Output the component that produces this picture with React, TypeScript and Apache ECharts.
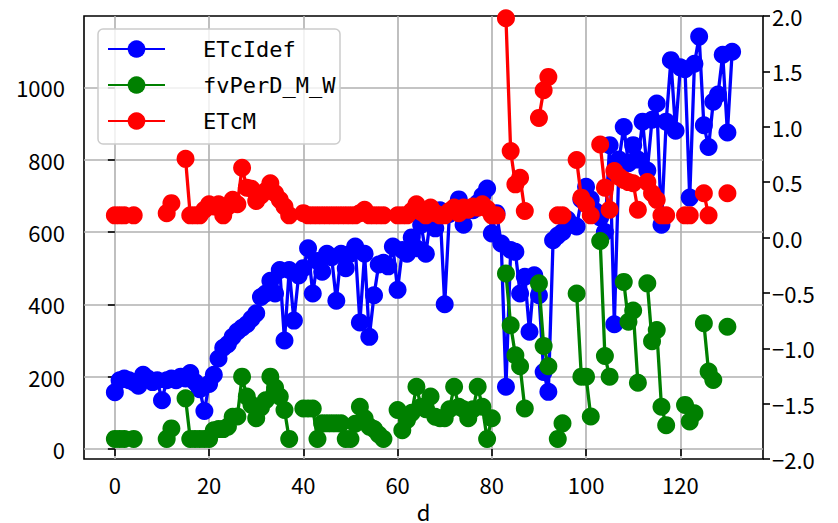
import React, { useEffect, useRef } from 'react';
import * as echarts from 'echarts';

const seriesNames = ['ETcIdef', 'fvPerD_M_W', 'ETcM'];

// index d = 0..131
const days: number[] = Array.from({ length: 132 }, (_, i) => i);

const etcIdef: (number | null)[] = [
  157, 190, 195, 190, 185, 175, 205, 195, 185, 190,
  135, 190, 195, 190, 200, 195, 210, 185, 165, 105,
  180, 205, 250, 280, 290, 310, 325, 335, 345, 360,
  375, 420, 430, 465, 430, 495, 300, 495, 355, 480,
  500, 555, 430, 520, 490, 540, 530, 410, 540, 500,
  540, 560, 350, 540, 310, 425, 510, 515, 505, 560,
  440, 550, 540, 585, 555, 620, 540, 640, 610, 660,
  400, 650, 660, 690, 620, 660, 660, 680, 700, 720,
  596, 652, 568, 172, 550, 545, 430, 476, 324, 480,
  425, 213, 158, 577, 590, 600, 635, 620, 615, 690,
  725, 690, 657, 640, 600, 840, 345, 800, 890, 790,
  840, 800, 905, 770, 910, 955, 620, 905, 1075, 880,
  1055, 1050, 695, 1065, 1140, 895, 835, 960, 980, 1090,
  875, 1098,
];

const fvPerD: (number | null)[] = [
  28, 28, 28, null, 28, null, null, null, null, null,
  null, 28, 57, null, null, 140, 28, 28, 28, 28,
  28, 52, 55, 55, 62, 89, 90, 200, 145, 122,
  85, 115, 135, 200, 170, 145, 108, 28, null, null,
  112, 112, 112, 28, 71, 71, 71, 71, 71, 28,
  28, 70, 117, 85, 62, 55, 40, 28, null, null,
  108, 52, 80, 100, 172, 117, 110, 145, 89, 85,
  85, 110, 172, 117, 110, 85, 110, 172, 117, 28,
  85, null, null, 485, 342, 259, 229, 112, null, null,
  458, 285, 229, null, 28, 71, null, null, 430, 200,
  200, 90, null, 575, 257, 200, null, null, 462, 352,
  383, 183, null, 458, 298, 329, 117, 66, null, null,
  null, 122, 76, 99, null, 348, 214, 191, null, null,
  338, null,
];

const etcM: (number | null)[] = [
  0.2, 0.2, 0.2, null, 0.2, null, null, null, null, null,
  null, 0.22, 0.31, null, null, 0.71, 0.2, 0.2, 0.2, 0.25,
  0.3, 0.28, 0.3, 0.2, 0.28, 0.34, 0.3, 0.63, 0.45, 0.44,
  0.33, 0.38, 0.42, 0.49, 0.4, 0.34, 0.28, 0.2, null, null,
  0.22, 0.2, 0.2, 0.2, 0.2, 0.2, 0.2, 0.2, 0.2, 0.2,
  0.2, 0.2, 0.22, 0.25, 0.2, 0.2, 0.2, 0.2, null, null,
  0.2, 0.2, 0.2, 0.24, 0.3, 0.23, 0.2, 0.27, 0.22, 0.2,
  0.2, 0.24, 0.27, 0.22, 0.27, 0.25, 0.28, 0.27, 0.3, 0.26,
  0.2, 0.2, null, 1.98, 0.78, 0.48, 0.54, 0.24, null, null,
  1.08, 1.33, 1.45, null, 0.2, 0.2, null, null, 0.7, 0.36,
  0.3, 0.2, null, 0.84, 0.45, 0.25, 0.6, 0.55, 0.52, 0.5,
  0.49, 0.25, null, 0.5, 0.4, 0.34, 0.2, 0.2, null, null,
  null, 0.2, 0.2, null, null, 0.4, 0.2, null, null, null,
  0.4, null,
];

const xTicks = [0, 20, 40, 60, 80, 100, 120];
const leftTicks = [0, 200, 400, 600, 800, 1000];

const colors = ['#0000ff', '#008000', '#ff0000'];

const tickFont = 'Noto Sans CJK SC';
const monoFont = 'DejaVu Sans Mono';

function pairs(arr: (number | null)[]) {
  return days.map((d, i) => [d, arr[i] === null || arr[i] === undefined ? '-' : arr[i]]);
}

export default function App() {
  const ref = useRef<HTMLDivElement>(null);
  useEffect(() => {
    document.body.style.margin = '0';
    if (!ref.current) return;
    const chart = echarts.init(ref.current, undefined, { renderer: 'svg' });
    const mkSeries = (name: string, data: (number | null)[], color: string, yAxisIndex: number, z: number) => ({
      name,
      type: 'line',
      data: pairs(data),
      yAxisIndex,
      symbol: 'circle',
      symbolSize: 18,
      showSymbol: true,
      connectNulls: false,
      lineStyle: { width: 3.3, color },
      itemStyle: { color, borderWidth: 0 },
      emphasis: { disabled: true },
      z,
    });
    const option: any = {
      animation: false,
      grid: {
        left: 84,
        right: 75,
        top: 16,
        bottom: 64,
        show: true,
        borderColor: '#000',
        borderWidth: 1.6,
        backgroundColor: 'transparent',
        outerBoundsMode: 'none',
      },
      legend: {
        orient: 'vertical',
        left: 107,
        top: 38,
        padding: 0,
        itemGap: 14,
        itemWidth: 57,
        itemHeight: 22,
        selectedMode: false,
        data: seriesNames,
        textStyle: { fontFamily: monoFont, fontSize: 22, color: '#000', padding: [0, 0, 0, 33] },
        z: 6,
      },
      graphic: [
        {
          type: 'rect',
          shape: { x: 98, y: 29, width: 242, height: 115, r: 5 },
          style: { fill: 'rgba(255,255,255,0.8)', stroke: '#cccccc', lineWidth: 1.5 },
          z: 5,
        },
      ],
      xAxis: {
        type: 'value',
        min: -6.55,
        max: 137.55,
        name: 'd',
        nameLocation: 'middle',
        nameGap: 37,
        nameTextStyle: { fontFamily: tickFont, fontSize: 22, lineHeight: 22, color: '#000' },
        axisLine: { show: false },
        axisTick: { show: true, length: 7, lineStyle: { color: '#000', width: 1.6 }, customValues: xTicks },
        axisLabel: {
          customValues: xTicks,
          margin: 14,
          fontSize: 22,
          color: '#000',
          fontFamily: tickFont,
          formatter: (v: number) => String(v),
        },
        splitLine: { show: true, lineStyle: { color: '#b0b0b0', width: 1.6 } },
      },
      yAxis: [
        {
          type: 'value',
          position: 'left',
          min: -27.6,
          max: 1197,
          axisLine: { show: false },
          axisTick: { show: true, length: 7, lineStyle: { color: '#000', width: 1.6 }, customValues: leftTicks },
          axisLabel: {
            customValues: leftTicks,
            margin: 19,
            fontSize: 22,
            color: '#000',
            fontFamily: tickFont,
            formatter: (v: number) => String(v),
          },
          splitLine: { show: true, lineStyle: { color: '#b0b0b0', width: 1.6 } },
        },
        {
          type: 'value',
          position: 'right',
          min: -2,
          max: 2,
          interval: 0.5,
          axisLine: { show: false },
          axisTick: { show: true, length: 7, lineStyle: { color: '#000', width: 1.6 } },
          axisLabel: {
            margin: 9,
            fontSize: 22,
            color: '#000',
            fontFamily: tickFont,
            formatter: (v: number) => (v < 0 ? '\u2212' : '') + Math.abs(v).toFixed(1),
          },
          splitLine: { show: false },
        },
      ],
      series: [
        mkSeries(seriesNames[0], etcIdef, colors[0], 0, 2),
        mkSeries(seriesNames[1], fvPerD, colors[1], 0, 3),
        mkSeries(seriesNames[2], etcM, colors[2], 1, 4),
      ],
    };
    chart.setOption(option);
    return () => chart.dispose();
  }, []);
  return <div ref={ref} style={{ width: 838, height: 523 }} />;
}
